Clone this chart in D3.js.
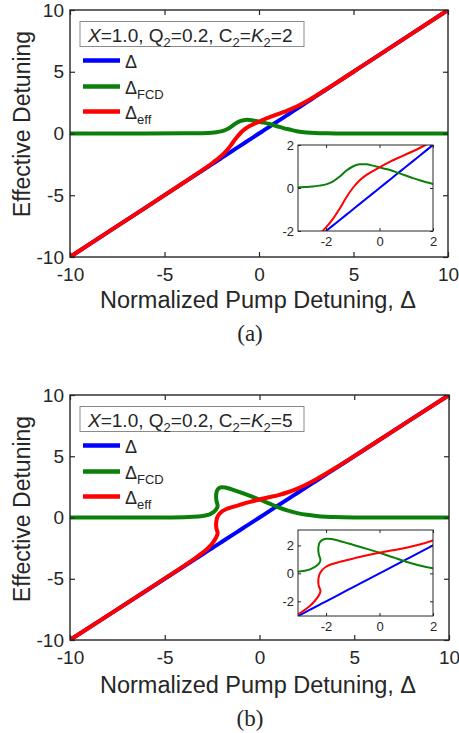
<!DOCTYPE html>
<html>
<head>
<meta charset="utf-8">
<script src="https://d3js.org/d3.v7.min.js"></script>
<style>
  html, body { margin: 0; padding: 0; background: #fff; }
  svg { display: block; }
  text { font-family: "Liberation Sans", Arial, sans-serif; fill: #262626; }
</style>
</head>
<body>
<svg id="fig" width="459" height="733"></svg>
<script>
// Pump detuning grid and frequency-comb detuning, panel (a): C2 = K2 = 2
const deltaA = [-10, -6, -4, -3, -2.5, -2.25, -2, -1.75, -1.5, -1.25, -1, -0.75, -0.5, -0.25, 0, 0.25, 0.5, 0.75, 1, 1.25, 1.5, 1.75, 2, 2.5, 3, 3.5, 4, 5, 6, 10];
const fcdA   = [0, 0.004, 0.012, 0.03, 0.07, 0.11, 0.17, 0.3, 0.52, 0.8, 1.0, 1.1, 1.1, 1.04, 0.96, 0.88, 0.79, 0.68, 0.57, 0.46, 0.36, 0.27, 0.19, 0.09, 0.04, 0.017, 0.008, 0.002, 0.001, 0];
const effA   = [-10, -5.996, -3.988, -2.97, -2.43, -2.14, -1.83, -1.45, -0.98, -0.45, 0.0, 0.35, 0.6, 0.79, 0.96, 1.13, 1.29, 1.43, 1.57, 1.71, 1.86, 2.02, 2.19, 2.59, 3.04, 3.517, 4.008, 5.002, 6.001, 10];

// Panel (b): C2 = K2 = 5, the response folds back (bistable branch), so points follow the curve in order
const deltaB = [-10, -6, -4, -3.5, -3, -2.75, -2.6, -2.45, -2.32, -2.24, -2.21, -2.23, -2.27, -2.29, -2.28, -2.24, -2.15, -2.0, -1.8, -1.5, -1, -0.5, 0, 0.5, 1, 1.5, 2, 2.5, 3, 3.5, 4, 5, 6, 10];
const fcdB   = [0, 0.005, 0.03, 0.06, 0.13, 0.2, 0.28, 0.42, 0.6, 0.78, 0.95, 1.12, 1.35, 1.65, 1.95, 2.2, 2.38, 2.47, 2.45, 2.32, 2.05, 1.77, 1.47, 1.15, 0.83, 0.56, 0.36, 0.22, 0.13, 0.07, 0.035, 0.01, 0.003, 0];
const effB   = [-10, -5.995, -3.97, -3.44, -2.87, -2.55, -2.32, -2.03, -1.72, -1.46, -1.26, -1.11, -0.92, -0.64, -0.33, -0.04, 0.23, 0.47, 0.65, 0.82, 1.05, 1.27, 1.47, 1.65, 1.83, 2.06, 2.36, 2.72, 3.13, 3.57, 4.035, 5.01, 6.003, 10];

// Axis ticks
const mainTicks = [-10, -5, 0, 5, 10];
const insetTicks = [-2, 0, 2];

// Series names and colours
const seriesNames = [["Δ", ""], ["Δ", "FCD"], ["Δ", "eff"]];
const seriesColors = ["#0000ff", "#0a800a", "#ff0000"];

const svg = d3.select("#fig");
const axisColor = "#262626";

function drawPanel(cfg) {
  const { top, left, right, height, delta, fcd, eff, params, insetY, tag, id } = cfg;
  const bottom = top + height;
  const x = d3.scaleLinear().domain([-10, 10]).range([left, right]);
  const y = d3.scaleLinear().domain([-10, 10]).range([bottom, top]);
  const g = svg.append("g");

  g.append("clipPath").attr("id", "clip-" + id)
    .append("rect").attr("x", left).attr("y", top).attr("width", right - left).attr("height", height);

  const series = [
    delta.map((d) => [d, d]),
    delta.map((d, i) => [d, fcd[i]]),
    delta.map((d, i) => [d, eff[i]])
  ];

  const line = d3.line().x((d) => x(d[0])).y((d) => y(d[1])).curve(d3.curveCatmullRom.alpha(0.5));
  const lines = g.append("g").attr("clip-path", `url(#clip-${id})`);
  series.forEach((s, i) => {
    lines.append("path").attr("d", line(s)).attr("fill", "none")
      .attr("stroke", seriesColors[i]).attr("stroke-width", 4)
      .attr("stroke-linejoin", "round").attr("stroke-linecap", "round");
  });

  // Axes with inward ticks on all four sides
  const styleAxis = (sel) => {
    sel.select(".domain").remove();
    sel.selectAll(".tick line").attr("stroke", axisColor).attr("stroke-width", 1.2);
    sel.selectAll(".tick text").attr("fill", axisColor)
      .style("font-size", "19px").style("font-family", "'Liberation Sans', Arial, sans-serif");
  };
  g.append("g").attr("transform", `translate(0,${bottom})`)
    .call(d3.axisBottom(x).tickValues(mainTicks).tickSizeInner(-5).tickSizeOuter(0).tickPadding(11).tickFormat(d3.format("d")))
    .call(styleAxis);
  g.append("g").attr("transform", `translate(${left},0)`)
    .call(d3.axisLeft(y).tickValues(mainTicks).tickSizeInner(-5).tickSizeOuter(0).tickPadding(6).tickFormat(d3.format("d")))
    .call(styleAxis);
  g.append("g").attr("transform", `translate(0,${top})`)
    .call(d3.axisTop(x).tickValues(mainTicks).tickSizeInner(-5).tickSizeOuter(0).tickFormat(""))
    .call(styleAxis);
  g.append("g").attr("transform", `translate(${right},0)`)
    .call(d3.axisRight(y).tickValues(mainTicks).tickSizeInner(-5).tickSizeOuter(0).tickFormat(""))
    .call(styleAxis);

  g.append("rect").attr("x", left).attr("y", top).attr("width", right - left).attr("height", height)
    .attr("fill", "none").attr("stroke", axisColor).attr("stroke-width", 1.4);

  // Parameter box
  g.append("rect").attr("x", 80).attr("y", top + 11.5).attr("width", 224).attr("height", 25)
    .attr("fill", "#fff").attr("stroke", "#8a8a8a").attr("stroke-width", 1);
  const t = g.append("text").attr("x", 88).attr("y", top + 31.5).style("font-size", "19px");
  params.forEach((p) => {
    const ts = t.append("tspan").text(p.text);
    if (p.italic) ts.style("font-style", "italic");
    if (p.sub) {
      ts.attr("dy", 5).style("font-size", "13px");
    } else if (p.after) {
      ts.attr("dy", -5);
    }
  });

  // Legend entries
  const legY = [top + 50.5, top + 76.5, top + 101.5];
  seriesNames.forEach((nm, i) => {
    g.append("line").attr("x1", 83).attr("x2", 120).attr("y1", legY[i]).attr("y2", legY[i])
      .attr("stroke", seriesColors[i]).attr("stroke-width", 4.5);
    const lt = g.append("text").attr("x", 125).attr("y", legY[i] + 7).style("font-size", "18px");
    lt.append("tspan").text(nm[0]);
    if (nm[1]) lt.append("tspan").attr("dy", 5).style("font-size", "13px").text(nm[1]);
  });

  // Axis titles and panel tag
  g.append("text").attr("transform", `translate(30,${top + 114}) rotate(-90)`)
    .attr("text-anchor", "middle").style("font-size", "23px").text("Effective Detuning");
  g.append("text").attr("x", 258).attr("y", top + 298).attr("text-anchor", "middle")
    .style("font-size", "23.5px").text("Normalized Pump Detuning, Δ");
  g.append("text").attr("x", 250).attr("y", top + 331).attr("text-anchor", "middle")
    .style("font-size", "23px").style("font-family", "'Liberation Serif', 'Times New Roman', serif").text(tag);

  // Zoomed inset
  const il = 298, ir = 433, it = top + 135, ib = top + 221;
  const xi = d3.scaleLinear().domain([-3.05, 2]).range([il, ir]);
  const yi = d3.scaleLinear().domain(insetY).range([ib, it]);
  const gi = g.append("g");
  gi.append("rect").attr("x", il).attr("y", it).attr("width", ir - il).attr("height", ib - it).attr("fill", "#fff");
  gi.append("clipPath").attr("id", "clipi-" + id)
    .append("rect").attr("x", il).attr("y", it).attr("width", ir - il).attr("height", ib - it);
  const iline = d3.line().x((d) => xi(d[0])).y((d) => yi(d[1])).curve(d3.curveCatmullRom.alpha(0.5));
  const il2 = gi.append("g").attr("clip-path", `url(#clipi-${id})`);
  series.forEach((s, i) => {
    il2.append("path").attr("d", iline(s)).attr("fill", "none")
      .attr("stroke", seriesColors[i]).attr("stroke-width", 2).attr("stroke-linejoin", "round");
  });
  const styleInset = (sel) => {
    sel.select(".domain").remove();
    sel.selectAll(".tick line").attr("stroke", axisColor).attr("stroke-width", 1);
    sel.selectAll(".tick text").attr("fill", axisColor)
      .style("font-size", "13px").style("font-family", "'Liberation Sans', Arial, sans-serif");
  };
  gi.append("g").attr("transform", `translate(0,${ib})`)
    .call(d3.axisBottom(xi).tickValues(insetTicks).tickSizeInner(-3).tickSizeOuter(0).tickPadding(6).tickFormat(d3.format("d")))
    .call(styleInset);
  gi.append("g").attr("transform", `translate(${il},0)`)
    .call(d3.axisLeft(yi).tickValues(insetTicks).tickSizeInner(-3).tickSizeOuter(0).tickPadding(4).tickFormat(d3.format("d")))
    .call(styleInset);
  gi.append("g").attr("transform", `translate(0,${it})`)
    .call(d3.axisTop(xi).tickValues(insetTicks).tickSizeInner(-3).tickSizeOuter(0).tickFormat(""))
    .call(styleInset);
  gi.append("g").attr("transform", `translate(${ir},0)`)
    .call(d3.axisRight(yi).tickValues(insetTicks).tickSizeInner(-3).tickSizeOuter(0).tickFormat(""))
    .call(styleInset);
  gi.append("rect").attr("x", il).attr("y", it).attr("width", ir - il).attr("height", ib - it)
    .attr("fill", "none").attr("stroke", axisColor).attr("stroke-width", 1);

  // Plain hyphen instead of the typographic minus sign in tick labels
  g.selectAll(".tick text").text(function () { return this.textContent.replace("−", "-"); });
}

const paramsA = [
  { text: "X", italic: true }, { text: "=1.0, Q" }, { text: "2", sub: true }, { text: "=0.2, C", after: true },
  { text: "2", sub: true }, { text: "=", after: true }, { text: "K", italic: true }, { text: "2", sub: true }, { text: "=2", after: true }
];
const paramsB = paramsA.map((p, i) => (i === paramsA.length - 1 ? { text: "=5", after: true } : p));

drawPanel({ id: "a", top: 10, left: 70, right: 448, height: 247, delta: deltaA, fcd: fcdA, eff: effA,
  params: paramsA, insetY: [-2, 2], tag: "(a)" });
drawPanel({ id: "b", top: 395, left: 70, right: 449, height: 245, delta: deltaB, fcd: fcdB, eff: effB,
  params: paramsB, insetY: [-3.05, 3.1], tag: "(b)" });
</script>
</body>
</html>
